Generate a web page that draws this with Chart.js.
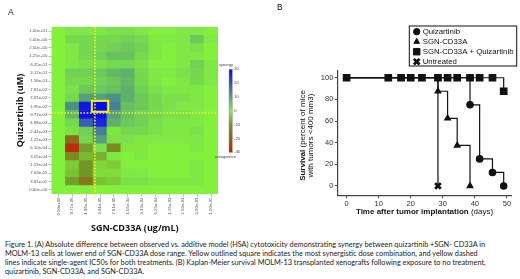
<!DOCTYPE html>
<html>
<head>
<meta charset="utf-8">
<script src="https://cdn.jsdelivr.net/npm/chart.js@4.4.1/dist/chart.umd.min.js"></script>
<style>
  html, body { margin: 0; padding: 0; background: #fff; }
  body { width: 520px; height: 279px; position: relative; overflow: hidden; }
  canvas { position: absolute; }
  #heat { left: 0; top: 0; }
  #surv { left: 260px; top: 0; }
  .panel { position: absolute; font: 8.5px "Liberation Sans", Arial, sans-serif; color: #111; }
  .cap { position: absolute; left: 5px; font: 7.3px Lato, sans-serif; color: #222; white-space: nowrap; }
</style>
</head>
<body>
<canvas id="heat" width="260" height="235"></canvas>
<canvas id="surv" width="260" height="225"></canvas>
<div class="panel" style="left:8px;top:7px">A</div>
<div class="panel" style="left:277px;top:2px">B</div>
<div class="cap" style="top:240px">Figure 1. (A) Absolute difference between observed vs. additive model (HSA) cytotoxicity demonstrating synergy between quizartinib +SGN- CD33A in</div>
<div class="cap" style="top:249px">MOLM-13 cells at lower end of SGN-CD33A dose range. Yellow outlined square indicates the most synergistic dose combination, and yellow dashed</div>
<div class="cap" style="top:258px">lines indicate single-agent IC50s for both treatments. (B) Kaplan-Meier survival MOLM-13 transplanted xenografts following exposure to no treatment,</div>
<div class="cap" style="top:267px">quizartinib, SGN-CD33A, and SGN-CD33A.</div>
<script>
// ---- panel A: synergy heatmap ----
const sgnDoses = ['0.00e+00','9.77e-06','1.95e-05','3.91e-05','7.81e-05','1.56e-04','3.13e-04','6.25e-04','1.25e-03','2.50e-03','5.00e-03','1.00e-02'];
const quizDoses = ['0.00e+00','3.81e-05','7.63e-05','1.53e-04','3.05e-04','6.10e-04','1.22e-03','2.44e-03','4.88e-03','9.77e-03',
                   '1.95e-02','3.91e-02','7.81e-02','1.56e-01','3.12e-01','6.25e-01','1.25e+00','2.50e+00','5.00e+00','1.00e+01'];
// one row per quizartinib dose, lowest dose first
const synergy = [
  [0, 0, 0, 0, 0, 0, 0, 0, 0, 0, 0, 0],
  [0, -9, -15, -5, -4, 2, 2, 1, 1, 1, 1, 0],
  [0, -5, -10, -2, -2, 1, 1, 0, 0, 0, 1, 0],
  [0, -4, -10, -3, -4, 0, 0, 0, 0, 0, 1, 0],
  [0, -12, -6, -7, -1, 0, 1, 0, 0, 0, 0, 0],
  [0, -27, -9, 2, -12, -1, -1, 0, 0, 0, 1, 0],
  [0, -17, 3, 10, 2, 2, 1, 1, 1, 1, 1, 0],
  [0, 2, 4, 14, -1, 3, 3, 2, 1, 1, 2, 0],
  [0, 3, 18, 26, 8, 5, 4, 2, 1, 1, 1, 0],
  [0, 7, 29, 29, 10, 6, 4, 3, 2, 2, 1, 0],
  [0, 12, 28, 30, 14, 6, 5, 3, 2, 1, 1, 0],
  [0, 3, 10, 10, 12, 8, 5, 3, 2, 2, 1, 0],
  [0, 2, 5, 5, 6, 8, 4, 2, 1, 1, 1, 0],
  [0, 3, 3, 4, 5, 7, 3, 1, 0, 1, 3, 1],
  [0, 4, 4, 5, 7, 8, 3, 1, 1, 2, 3, 1],
  [0, 1, 2, 2, 3, 3, 2, 0, 0, 1, 4, 1],
  [0, 1, 3, 4, 6, 6, 3, 1, 0, 1, 1, 0],
  [0, 1, 3, 3, 4, 5, 4, 1, 0, 1, 2, 0],
  [0, 3, 3, 3, 3, 4, 3, 1, 1, 1, 5, 1],
  [0, 1, 1, 1, 2, 2, 1, 0, 0, 1, 1, 0]
];
const bestSgn = '3.91e-05';
const bestQuiz = '1.95e-02';
const sgnIC50 = 2.63;   // in dose-index units
const quizIC50 = 9.7;
const colorbarTicks = [30, 20, 10, 0, -10, -20, -30];

// ---- panel B: survival ----
const dayTicks = [0, 10, 20, 30, 40, 50];
const survTicks = [0, 20, 40, 60, 80, 100];
const quizDays = [0, 38.5, 41.5, 45.5, 49];
const quizSurv = [100, 75, 25, 12.5, 0];
const sgnDays = [0, 28.5, 31.5, 34.5, 38.5];
const sgnSurv = [100, 87.5, 62.5, 37.5, 0];
const comboDays = [0, 13, 17, 20, 23.5, 28.5, 31.5, 34.5, 38.5, 41.5, 45.5, 49];
const comboSurv = [100, 100, 100, 100, 100, 100, 100, 100, 100, 100, 100, 87.5];
const untreatedDays = [0, 28.5];
const untreatedSurv = [100, 0];

Chart.defaults.font.family = '"Liberation Sans", Arial, sans-serif';
Chart.defaults.animation = false;

const stops = [
  [30, [10, 10, 235]], [20, [50, 80, 190]], [10, [85, 160, 120]], [0, [132, 240, 62]],
  [-10, [115, 150, 40]], [-20, [150, 90, 20]], [-30, [200, 30, 0]]
];
function synergyColor(v) {
  v = Math.max(-30, Math.min(30, v));
  for (let i = 0; i < stops.length - 1; i++) {
    const [a, ca] = stops[i], [b, cb] = stops[i + 1];
    if (v <= a && v >= b) {
      const t = (a - v) / (a - b);
      const c = ca.map((q, k) => Math.round(q + (cb[k] - q) * t));
      return 'rgb(' + c.join(',') + ')';
    }
  }
  return 'rgb(132,240,62)';
}

const heatExtras = {
  id: 'heatExtras',
  afterDatasetsDraw(chart) {
    const {ctx, chartArea, scales: {x, y}} = chart;
    ctx.save();
    ctx.strokeStyle = '#f4f024';
    ctx.lineWidth = 1.6;
    ctx.setLineDash([1.6, 1.6]);
    const vx = x.getPixelForValue(sgnIC50);
    ctx.beginPath(); ctx.moveTo(vx, chartArea.top); ctx.lineTo(vx, chartArea.bottom + 4); ctx.stroke();
    const hy = y.getPixelForValue(quizIC50);
    ctx.beginPath(); ctx.moveTo(chartArea.left, hy); ctx.lineTo(chartArea.right, hy); ctx.stroke();
    ctx.setLineDash([]);
    ctx.lineWidth = 2;
    const bi = sgnDoses.indexOf(bestSgn), bj = quizDoses.indexOf(bestQuiz);
    const x0 = x.getPixelForValue(bi - 0.5), x1 = x.getPixelForValue(bi + 0.5);
    const y0 = y.getPixelForValue(bj + 1), y1 = y.getPixelForValue(bj);
    ctx.strokeRect(x0 - 1.3, y0 - 1.3, x1 - x0 + 2.6, y1 - y0 + 2.6);
    ctx.restore();
  },
  afterDraw(chart) {
    // colour key
    const ctx = chart.ctx;
    const bx = 229, bw = 3.3, top = 69.3, bot = 152.3;
    ctx.save();
    const g = ctx.createLinearGradient(0, top, 0, bot);
    for (let v = 30; v >= -30; v -= 5) g.addColorStop((30 - v) / 60, synergyColor(v));
    ctx.fillStyle = g;
    ctx.fillRect(bx, top, bw, bot - top);
    ctx.strokeStyle = '#999';
    ctx.lineWidth = 0.5;
    ctx.strokeRect(bx, top, bw, bot - top);
    ctx.fillStyle = '#444';
    ctx.font = '4px "Liberation Sans", Arial, sans-serif';
    ctx.textBaseline = 'middle';
    colorbarTicks.forEach(v => {
      const ty = top + (30 - v) / 60 * (bot - top);
      ctx.beginPath(); ctx.moveTo(bx + bw, ty); ctx.lineTo(bx + bw + 1.2, ty); ctx.stroke();
      ctx.textAlign = 'left';
      ctx.fillText(String(v), bx + bw + 2, ty);
    });
    ctx.textAlign = 'center';
    ctx.fillText('synergy', 226, 64.7);
    ctx.fillText('antagonism', 225.5, 157);
    ctx.restore();
  }
};

new Chart(document.getElementById('heat'), {
  type: 'bar',
  data: {
    labels: sgnDoses,
    datasets: quizDoses.map((q, r) => ({
      label: q,
      data: sgnDoses.map(() => 1),
      backgroundColor: synergy[r].map(synergyColor),
      borderWidth: 0,
      barPercentage: 1,
      categoryPercentage: 1
    }))
  },
  options: {
    responsive: false,
    events: [],
    layout: { padding: { left: 0, top: 27, right: 42, bottom: 0 } },
    plugins: { legend: { display: false }, tooltip: { enabled: false } },
    scales: {
      x: {
        stacked: true,
        afterFit: s => { s.height = 41; },
        grid: { offset: false, drawOnChartArea: false, tickLength: 3, color: '#999', lineWidth: 0.6 },
        border: { display: false },
        ticks: { autoSkip: false, minRotation: 90, maxRotation: 90, padding: 0.5, color: '#555',
                 font: { size: 4.3 } },
        title: { display: true, text: 'SGN-CD33A (ug/mL)', color: '#111',
                 font: { family: '"Open Sans", sans-serif', size: 9, weight: 'bold' },
                 padding: { top: 0, bottom: 1.5 } }
      },
      y: {
        stacked: true,
        min: 0,
        max: quizDoses.length,
        afterFit: s => { s.width = 51.5; },
        afterBuildTicks: s => { s.ticks = quizDoses.map((q, i) => ({ value: i + 0.5 })); },
        grid: { drawOnChartArea: false, tickLength: 3, color: '#999', lineWidth: 0.6 },
        border: { display: false },
        ticks: { autoSkip: false, padding: 1.2, color: '#555', font: { size: 4.3 },
                 callback: (v, i) => quizDoses[i] },
        title: { display: true, text: 'Quizartinib (uM)', color: '#111',
                 font: { family: '"Open Sans", sans-serif', size: 9, weight: 'bold' },
                 padding: { top: 15, bottom: 0 } }
      }
    }
  },
  plugins: [heatExtras]
});

// ---- survival chart ----
const toXY = (xs, ys) => xs.map((d, i) => ({ x: d, y: ys[i] }));
const series = [
  { label: 'Quizartinib', data: toXY(quizDays, quizSurv), pointStyle: 'circle',
    pointRadius: quizDays.map((d, i) => i ? 3.2 : 0), legendRadius: 3.2 },
  { label: 'SGN-CD33A', data: toXY(sgnDays, sgnSurv), pointStyle: 'triangle',
    pointRadius: sgnDays.map((d, i) => i ? 3.3 : 0), legendRadius: 3.3 },
  { label: 'SGN-CD33A + Quizartinib', data: toXY(comboDays, comboSurv), pointStyle: 'rect',
    pointRadius: 4.6, legendRadius: 4.6 },
  { label: 'Untreated', data: toXY(untreatedDays, untreatedSurv), pointStyle: 'crossRot',
    pointRadius: untreatedDays.map((d, i) => i ? 4 : 0), pointBorderWidth: 2.8, legendRadius: 4 }
].map(s => Object.assign({
  stepped: true, borderColor: '#111', borderWidth: 1.2, backgroundColor: '#111',
  pointBackgroundColor: '#111', pointBorderColor: '#111', fill: false
}, s));

const survExtras = {
  id: 'survExtras',
  afterDraw(chart) {
    const ctx = chart.ctx;
    const {chartArea} = chart;
    ctx.save();
    // legend box
    const lx = 149.3, ly = 26, lw = 107.4, lh = 40;
    ctx.strokeStyle = '#111';
    ctx.lineWidth = 1;
    ctx.strokeRect(lx, ly, lw, lh);
    ctx.font = '7.8px "Liberation Sans", Arial, sans-serif';
    ctx.textBaseline = 'middle';
    ctx.textAlign = 'left';
    chart.data.datasets.forEach((ds, i) => {
      const yy = ly + 5.7 + i * 10;
      const bw = ds.pointBorderWidth || 1;
      ctx.fillStyle = '#111';
      ctx.strokeStyle = '#111';
      ctx.lineWidth = bw;
      Chart.helpers.drawPoint(ctx, { pointStyle: ds.pointStyle, radius: ds.legendRadius,
        borderWidth: bw, rotation: 0 }, lx + 7.4, yy);
      ctx.fillStyle = '#111';
      ctx.fillText(ds.label, lx + 13.4, yy + 0.3);
    });
    // axis titles with bold lead words
    const mixed = (parts, cx, cy) => {
      let total = 0;
      parts.forEach(p => { ctx.font = p[1]; total += ctx.measureText(p[0]).width; });
      let x = cx - total / 2;
      parts.forEach(p => { ctx.font = p[1]; ctx.fillText(p[0], x, cy); x += ctx.measureText(p[0]).width; });
    };
    const bold = 'bold 8px "Liberation Sans", Arial, sans-serif';
    const reg = '8px "Liberation Sans", Arial, sans-serif';
    ctx.fillStyle = '#111';
    mixed([['Time after tumor implantation', bold], [' (days)', reg]], (chartArea.left + chartArea.right) / 2, 211.7);
    ctx.translate(0, 135.5);
    ctx.rotate(-Math.PI / 2);
    mixed([['Survival', bold], [' (percent of mice', reg]], 0, 42.7);
    mixed([['with tumors <400 mm3)', reg]], 0, 50.5);
    ctx.restore();
  }
};

new Chart(document.getElementById('surv'), {
  type: 'line',
  data: { datasets: series },
  options: {
    responsive: false,
    events: [],
    layout: { padding: { left: 0, top: 70.7, right: 8.3, bottom: 0 } },
    plugins: { legend: { display: false }, tooltip: { enabled: false } },
    scales: {
      x: {
        type: 'linear', min: -2.9, max: 51.5,
        afterFit: s => { s.height = 29.3; },
        afterBuildTicks: s => { s.ticks = dayTicks.map(v => ({ value: v })); },
        grid: { drawOnChartArea: false, tickLength: 2.5, color: '#444', lineWidth: 1 },
        border: { color: '#444', width: 1.2 },
        ticks: { padding: 1, color: '#333', font: { size: 7.5 } }
      },
      y: {
        min: -9, max: 106.5,
        afterFit: s => { s.width = 77.3; },
        afterBuildTicks: s => { s.ticks = survTicks.map(v => ({ value: v })); },
        grid: { drawOnChartArea: false, tickLength: 2.5, color: '#444', lineWidth: 1 },
        border: { color: '#444', width: 1.2 },
        ticks: { padding: 1.5, color: '#333', font: { size: 7.5 } }
      }
    }
  },
  plugins: [survExtras]
});
</script>
</body>
</html>
